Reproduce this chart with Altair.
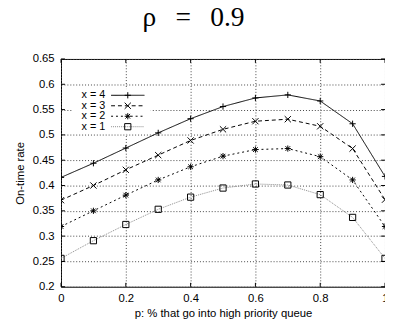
import altair as alt
import pandas as pd

# ---- data ----
p_values = [0.0, 0.1, 0.2, 0.3, 0.4, 0.5, 0.6, 0.7, 0.8, 0.9, 1.0]
series_names = ["x = 4", "x = 3", "x = 2", "x = 1"]
rate_x4 = [0.416, 0.444, 0.474, 0.504, 0.532, 0.556, 0.573, 0.579, 0.567, 0.522, 0.418]
rate_x3 = [0.371, 0.400, 0.431, 0.460, 0.489, 0.511, 0.527, 0.531, 0.517, 0.473, 0.372]
rate_x2 = [0.319, 0.350, 0.381, 0.411, 0.437, 0.458, 0.471, 0.473, 0.457, 0.411, 0.319]
rate_x1 = [0.256, 0.291, 0.323, 0.353, 0.377, 0.395, 0.403, 0.401, 0.382, 0.337, 0.256]
x_ticks = [0.0, 0.2, 0.4, 0.6, 0.8, 1.0]
y_ticks = [0.2, 0.25, 0.3, 0.35, 0.4, 0.45, 0.5, 0.55, 0.6, 0.65]

rows = []
for name, vals in zip(series_names, [rate_x4, rate_x3, rate_x2, rate_x1]):
    for p, v in zip(p_values, vals):
        rows.append({"p": p, "rate": v, "series": name})
df = pd.DataFrame(rows)
legend_df = pd.DataFrame({"series": series_names})
xt_df = pd.DataFrame({"p": x_ticks})
yt_df = pd.DataFrame({"rate": y_ticks})

W, H = 330, 232
FONT = "Liberation Sans"
FS = 11.5
MSIZE = 40

dash_scale = alt.Scale(domain=series_names, range=[[1, 0], [4, 3], [2, 3], [1, 1]])
color_scale = alt.Scale(domain=series_names, range=["#000000", "#000000", "#000000", "#8a8a8a"])
shape_scale = alt.Scale(
    domain=series_names,
    range=[
        "M-1,0L1,0M0,-1L0,1",
        "M-1,-1L1,1M-1,1L1,-1",
        "M-1,0L1,0M0,-1L0,1M-0.75,-0.75L0.75,0.75M-0.75,0.75L0.75,-0.75",
        "M-1,-1L1,-1L1,1L-1,1Z",
    ],
)

xs = alt.Scale(domain=[0, 1], nice=False)
ys = alt.Scale(domain=[0.2, 0.65], nice=False)

x_axis = alt.Axis(values=x_ticks, format="~g", title="p: % that go into high priority queue",
                  grid=True, ticks=False, domain=False, labelPadding=6, titlePadding=4,
                  labelOverlap=False, labelFlush=False)
y_axis = alt.Axis(values=y_ticks, format="~g", title="On-time rate",
                  grid=True, ticks=False, domain=False, labelPadding=7, titlePadding=7,
                  labelOverlap=False, labelFlush=False)

X = alt.X("p:Q", scale=xs, axis=x_axis)
Y = alt.Y("rate:Q", scale=ys, axis=y_axis)

lines = alt.Chart(df).mark_line(strokeWidth=1, clip=True).encode(
    x=X, y=Y,
    strokeDash=alt.StrokeDash("series:N", scale=dash_scale, legend=None),
    color=alt.Color("series:N", scale=color_scale, legend=None),
    detail="series:N",
)
points = alt.Chart(df).mark_point(filled=False, size=MSIZE, strokeWidth=1, color="black", opacity=1, clip=True).encode(
    x=X, y=Y,
    shape=alt.Shape("series:N", scale=shape_scale, legend=None),
)

# inward border ticks (gnuplot style)
tick_len = 4
xt_bottom = alt.Chart(xt_df).mark_rule(color="black", strokeWidth=1).encode(
    x=X, y=alt.value(H - tick_len), y2=alt.value(H))
xt_top = alt.Chart(xt_df).mark_rule(color="black", strokeWidth=1).encode(
    x=X, y=alt.value(0), y2=alt.value(tick_len))
yt_left = alt.Chart(yt_df).mark_rule(color="black", strokeWidth=1).encode(
    y=Y, x=alt.value(0), x2=alt.value(tick_len))
yt_right = alt.Chart(yt_df).mark_rule(color="black", strokeWidth=1).encode(
    y=Y, x=alt.value(W - tick_len), x2=alt.value(W))

main = alt.layer(lines, points, xt_bottom, xt_top, yt_left, yt_right)

# custom gnuplot-like legend (label left, sample right)
leg_y = alt.Y("series:N", scale=alt.Scale(type="point", domain=series_names, range=[37, 69], padding=0), axis=None)
leg_box = alt.Chart(legend_df).mark_rect(fill="white", stroke=None).encode(
    x=alt.value(12), x2=alt.value(91), y=alt.value(31), y2=alt.value(76))
leg_text = alt.Chart(legend_df).mark_text(align="right", baseline="middle", font=FONT, fontSize=11, color="black").encode(
    x=alt.value(45), y=leg_y, text="series:N")
leg_line = alt.Chart(legend_df).mark_rule(strokeWidth=1).encode(
    x=alt.value(51), x2=alt.value(85), y=leg_y,
    strokeDash=alt.StrokeDash("series:N", scale=dash_scale, legend=None),
    color=alt.Color("series:N", scale=color_scale, legend=None),
)
leg_pt = alt.Chart(legend_df).mark_point(filled=False, size=MSIZE, strokeWidth=1, color="black", opacity=1).encode(
    x=alt.value(68), y=leg_y,
    shape=alt.Shape("series:N", scale=shape_scale, legend=None),
)
legend = alt.layer(leg_box, leg_line, leg_pt, leg_text)

chart = alt.layer(main, legend).resolve_scale(y="independent").properties(
    width=W, height=H,
    autosize=alt.AutoSizeParams(type="none"),
    padding={"left": 54, "top": 49, "right": 0, "bottom": 33},
    title=alt.TitleParams(
        text="ρ\u2002\u2009=\u2002\u20090.9", font="Liberation Serif", fontSize=28, fontWeight="normal",
        color="black", anchor="middle", frame="group", dx=-30, offset=22,
    ),
).configure_view(stroke="black", strokeWidth=1).configure_axis(
    labelFont=FONT, labelFontSize=FS, labelColor="black",
    titleFont=FONT, titleFontSize=FS, titleFontWeight="normal", titleColor="black",
    gridColor="#444444", gridDash=[1, 2], gridWidth=1, gridOpacity=1,
)

chart.save("out.html", embed_options={"renderer": "svg", "actions": False})
